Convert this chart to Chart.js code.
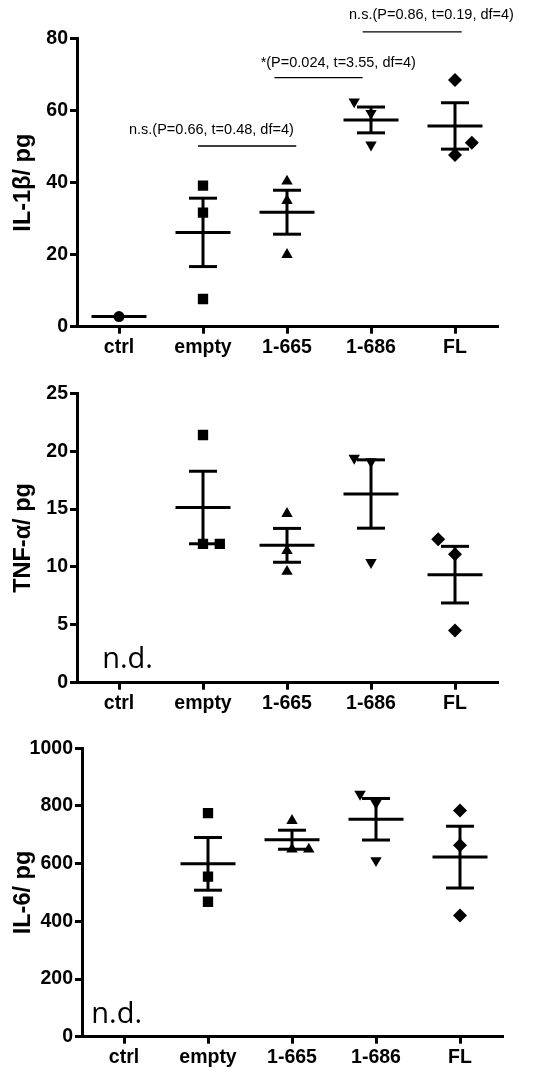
<!DOCTYPE html>
<html><head><meta charset="utf-8">
<script src="https://cdn.jsdelivr.net/npm/chart.js@4/dist/chart.umd.min.js"></script>
<style>
html,body{margin:0;padding:0;background:#fff;width:543px;height:1073px;overflow:hidden}
canvas{position:absolute;left:0}
</style></head><body>
<canvas id="c1" width="543" height="360" style="top:0"></canvas>
<canvas id="c2" width="543" height="360" style="top:360px"></canvas>
<canvas id="c3" width="543" height="368" style="top:705px"></canvas>
<script>
// ---- data ----
const categories = ['ctrl', 'empty', '1-665', '1-686', 'FL'];

const il1bValues = [[2.8], [39.2, 31.7, 7.7], [40.4, 35.0, 20.0], [62.5, 59.3, 50.5], [68.5, 51.1, 47.7]];
const il1bJitter = [[0], [0, 0, 0], [0, 0, 0], [-0.2, 0, 0], [0, 0.2, 0]];
const il1bTicks = [0, 20, 40, 60, 80];

const tnfValues = [[], [21.4, 12.0, 12.0], [14.6, 11.4, 9.6], [19.4, 19.1, 10.4], [12.4, 11.1, 4.5]];
const tnfJitter = [[], [0, 0, 0.2], [0, 0, 0], [-0.2, 0, 0], [-0.2, 0, 0]];
const tnfTicks = [0, 5, 10, 15, 20, 25];

const il6Values = [[], [775, 555, 468], [749, 650, 650], [841, 810, 611], [784, 664, 420]];
const il6Jitter = [[], [0, 0, 0], [0, 0, 0.2], [-0.19, 0, 0], [0, 0, 0]];
const il6Ticks = [0, 200, 400, 600, 800, 1000];

const il1bStats = [
  {text: 'n.s.(P=0.66, t=0.48, df=4)', from: 0.94, to: 2.11, level: 50.2, textX: 1.10, textY: 54.6},
  {text: '*(P=0.024, t=3.55, df=4)', from: 1.85, to: 2.90, level: 69.2, textX: 2.61, textY: 73.3},
  {text: 'n.s.(P=0.86, t=0.19, df=4)', from: 2.90, to: 4.08, level: 81.9, textX: 3.72, textY: 86.6}
];

// ---- styling ----
const SANS = '"Liberation Sans", Arial, sans-serif';
const MARKERS = [
  {style: 'circle', rotation: 0, r: 5.5},
  {style: 'rect', rotation: 0, r: 7.3},
  {style: 'triangle', rotation: 0, r: 6.6},
  {style: 'triangle', rotation: 180, r: 6.6},
  {style: 'rectRot', rotation: 0, r: 7}
];

function seg(ctx, x0, y0, x1, y1) { ctx.beginPath(); ctx.moveTo(x0, y0); ctx.lineTo(x1, y1); ctx.stroke(); }

function makeChart(id, o) {
  const datasets = o.values.map((vals, gi) => ({
    data: vals.map((v, k) => ({x: gi + o.jitter[gi][k], y: v})),
    pointStyle: MARKERS[gi].style,
    rotation: MARKERS[gi].rotation,
    pointRadius: MARKERS[gi].r,
    pointHoverRadius: MARKERS[gi].r,
    backgroundColor: '#000',
    borderColor: '#000',
    borderWidth: 0,
    showLine: false
  }));

  const meanPlugin = {
    id: 'meanSem' + id,
    afterDatasetsDraw(chart) {
      const {ctx, scales: {x, y}} = chart;
      ctx.save();
      ctx.strokeStyle = '#000'; ctx.lineWidth = 3; ctx.lineCap = 'butt';
      o.values.forEach((vals, gi) => {
        const n = vals.length;
        if (!n) return;
        const m = vals.reduce((a, b) => a + b, 0) / n;
        const cx = x.getPixelForValue(gi), my = y.getPixelForValue(m);
        seg(ctx, cx - 27.5, my, cx + 27.5, my);
        if (n > 1) {
          const sd = Math.sqrt(vals.reduce((a, b) => a + (b - m) * (b - m), 0) / (n - 1));
          const sem = sd / Math.sqrt(n);
          const ty = y.getPixelForValue(m + sem), by = y.getPixelForValue(m - sem);
          seg(ctx, cx, ty, cx, by);
          seg(ctx, cx - 14, ty, cx + 14, ty);
          seg(ctx, cx - 14, by, cx + 14, by);
        }
      });
      // annotations
      (o.stats || []).forEach(s => {
        ctx.lineWidth = 1.3;
        const ly = y.getPixelForValue(s.level);
        seg(ctx, x.getPixelForValue(s.from), ly, x.getPixelForValue(s.to), ly);
        ctx.fillStyle = '#000';
        ctx.font = '14.5px ' + SANS;
        ctx.textAlign = 'center'; ctx.textBaseline = 'middle';
        ctx.fillText(s.text, x.getPixelForValue(s.textX), y.getPixelForValue(s.textY));
      });
      if (o.nd) {
        ctx.fillStyle = '#000';
        ctx.font = '29px "Open Sans", sans-serif';
        ctx.textAlign = 'left'; ctx.textBaseline = 'alphabetic';
        ctx.fillText('n.d.', x.getPixelForValue(o.nd.x), y.getPixelForValue(o.nd.y));
      }
      ctx.restore();
    }
  };

  return new Chart(document.getElementById(id), {
    type: 'scatter',
    data: {datasets},
    plugins: [meanPlugin],
    options: {
      responsive: false,
      animation: false,
      events: [],
      layout: {padding: {top: o.top, right: o.right, left: 0, bottom: 0}},
      plugins: {legend: {display: false}, tooltip: {enabled: false}},
      scales: {
        x: {
          type: 'linear', min: -0.5, max: 4.5,
          afterBuildTicks: s => { s.ticks = categories.map((c, i) => ({value: i})); },
          afterFit: s => { s.height = o.xHeight; },
          ticks: {callback: v => categories[v], color: '#000', padding: 2, maxRotation: 0, autoSkip: false,
                  font: {family: SANS, size: 19.5, weight: 'bold'}},
          grid: {display: true, drawOnChartArea: false, drawTicks: true, tickLength: 7, tickWidth: 3, tickColor: '#000', color: '#000', lineWidth: 3},
          border: {display: true, color: '#000', width: 3}
        },
        y: {
          min: o.ticks[0], max: o.ticks[o.ticks.length - 1],
          afterBuildTicks: s => { s.ticks = o.ticks.map(v => ({value: v})); },
          afterFit: s => { s.width = o.yWidth; },
          ticks: {callback: v => String(v), color: '#000', padding: 2, font: {family: SANS, size: 19.5, weight: 'bold'}},
          grid: {display: true, drawOnChartArea: false, drawTicks: true, tickLength: 7, tickWidth: 3, tickColor: '#000', color: '#000', lineWidth: 3},
          border: {display: true, color: '#000', width: 3},
          title: {display: true, text: o.title, color: '#000', padding: {top: 12, bottom: 0},
                  font: {family: SANS, size: 23.5, weight: 'bold', lineHeight: 1}}
        }
      }
    }
  });
}

makeChart('c1', {values: il1bValues, jitter: il1bJitter, ticks: il1bTicks, title: 'IL-1β/ pg',
  top: 38.7, right: 46, xHeight: 33.3, yWidth: 77, stats: il1bStats});
makeChart('c2', {values: tnfValues, jitter: tnfJitter, ticks: tnfTicks, title: 'TNF-α/ pg',
  top: 33.3, right: 46, xHeight: 37.3, yWidth: 77, nd: {x: -0.2, y: 1.27}});
makeChart('c3', {values: il6Values, jitter: il6Jitter, ticks: il6Ticks, title: 'IL-6/ pg',
  top: 43.3, right: 41, xHeight: 36.3, yWidth: 82, nd: {x: -0.39, y: 47.5}});
</script>
</body></html>
